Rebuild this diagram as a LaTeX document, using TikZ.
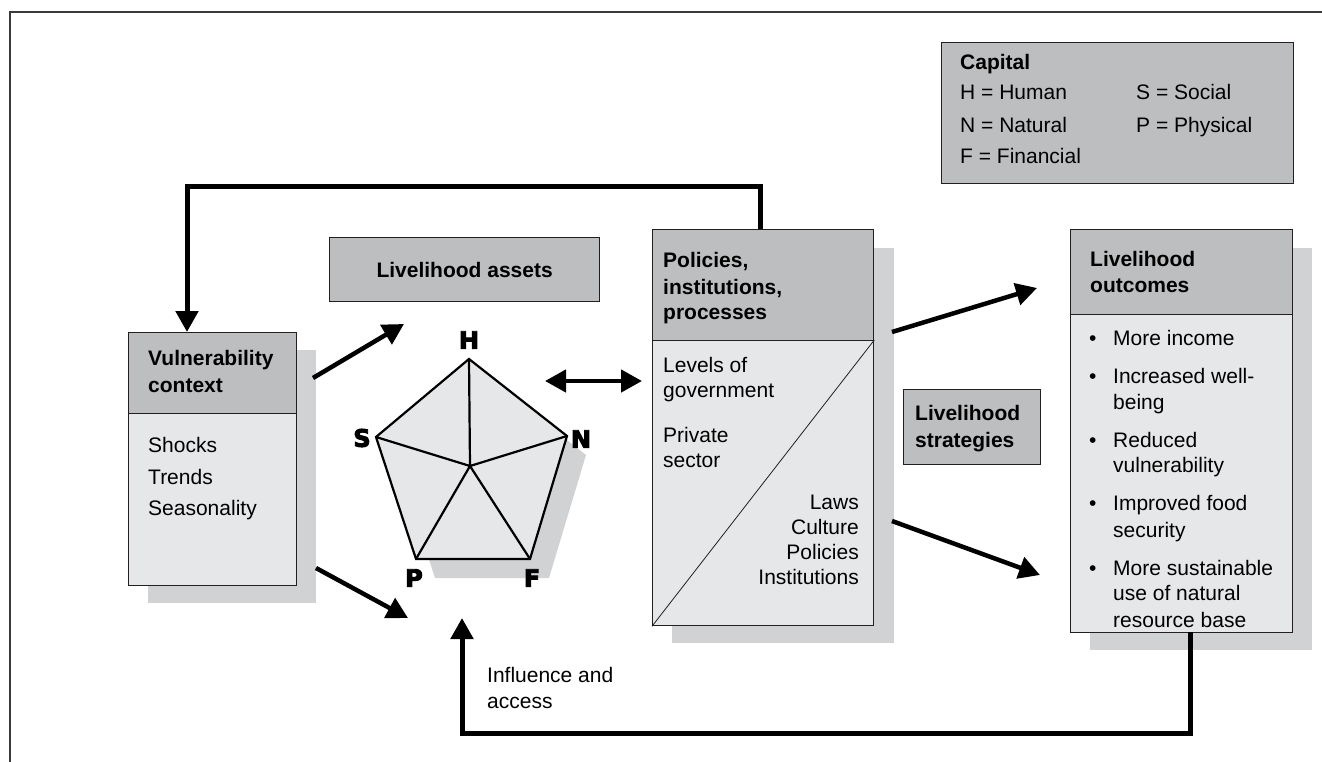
\documentclass[tikz,border=0pt]{standalone}
\usepackage{fontspec}
\setmainfont{Liberation Sans}
\newfontfamily\heavyfont[FakeBold=4]{DejaVu Sans Bold}
\usetikzlibrary{arrows.meta,calc}
\definecolor{hdrc}{HTML}{BDBEC0}
\definecolor{bodyc}{HTML}{E6E7E8}
\definecolor{shadc}{HTML}{D1D2D4}
\definecolor{bordc}{HTML}{231F20}
\definecolor{framec}{HTML}{3A3A3A}
\newcommand\fs{\fontsize{21}{26}\selectfont}
\tikzset{
  hbox/.style={draw=bordc, fill=hdrc, line width=1.3pt, inner sep=0pt, anchor=north west},
  bbox/.style={draw=bordc, fill=bodyc, line width=1.3pt, inner sep=0pt, anchor=north west},
  shad/.style={fill=shadc},
  txt/.style={font=\fs, inner sep=0pt, anchor=base west},
  txtr/.style={font=\fs, inner sep=0pt, anchor=base east},
  btxt/.style={font=\fs\bfseries, inner sep=0pt, anchor=base west},
  vlab/.style={font=\heavyfont\fontsize{24}{24}\selectfont, inner sep=0pt},
  arr/.style={line width=4.5pt, -{Triangle[length=21pt,width=22pt]}},
  darr/.style={line width=4.5pt, {Triangle[length=21pt,width=22pt]}-{Triangle[length=21pt,width=22pt]}},
  loopline/.style={line width=5pt},
}
\begin{document}
\begin{tikzpicture}[x=1pt,y=-1pt]
\useasboundingbox (0,0) rectangle (1322,762);
% frame
\draw[framec, line width=1.6pt] (10,762) -- (10,12) -- (1322,12);

% shadows
\fill[shad] (148,350) rectangle (316,603);
\fill[shad] (672,248) rectangle (894,643);
\fill[shad] (1090,248) rectangle (1312,650);
\fill[shad] (395,455) -- (488,378) -- (586,455) -- (549,578) -- (435,578) -- cycle;

% Capital box
\node[hbox, minimum width=352pt, minimum height=141pt] (cap) at (941,42) {};
\node[btxt] (capt) at (960,70) {Capital};
\node[txt] (caph) at (960,100) {H = Human};
\node[txt] (capn) at (960,133) {N = Natural};
\node[txt] (capf) at (960,164) {F = Financial};
\node[txt] (caps) at (1136,100) {S = Social};
\node[txt] (capp) at (1136,133) {P = Physical};

% Livelihood assets
\node[hbox, minimum width=270pt, minimum height=64pt] (ass) at (329,237) {};
\node[font=\fs\bfseries, inner sep=0pt] (asst) at (ass.center) {Livelihood assets};

% Vulnerability context
\node[hbox, minimum width=168pt, minimum height=81pt] (vulh) at (128,332) {};
\node[bbox, minimum width=168pt, minimum height=172pt] (vulb) at (128,413) {};
\node[btxt] (vul1) at (148,365) {Vulnerability};
\node[btxt] (vul2) at (148,392) {context};
\node[txt] (vul3) at (148,452) {Shocks};
\node[txt] (vul4) at (148,484) {Trends};
\node[txt] (vul5) at (148,515) {Seasonality};

% Policies
\node[hbox, minimum width=221pt, minimum height=111pt] (polh) at (652,229) {};
\node[bbox, minimum width=221pt, minimum height=285pt] (polb) at (652,340) {};
\draw[bordc, line width=0.8pt] (polb.south west) -- (polb.north east);
\node[btxt] (pol1) at (663,267) {Policies,};
\node[btxt] (pol2) at (663,294) {institutions,};
\node[btxt] (pol3) at (663,319) {processes};
\node[txt] (pol4) at (663,372) {Levels of};
\node[txt] (pol5) at (663,397) {government};
\node[txt] (pol6) at (663,442) {Private};
\node[txt] (pol7) at (663,467) {sector};
\node[txtr] (pol8) at (859,509) {Laws};
\node[txtr] (pol9) at (859,534) {Culture};
\node[txtr] (pol10) at (859,559) {Policies};
\node[txtr] (pol11) at (859,584) {Institutions};

% Livelihood strategies
\node[hbox, minimum width=137pt, minimum height=75pt] (str) at (903,389) {};
\node[btxt] (str1) at (915,420) {Livelihood};
\node[btxt] (str2) at (915,447) {strategies};

% Livelihood outcomes
\node[hbox, minimum width=222pt, minimum height=85pt] (outh) at (1070,229) {};
\node[bbox, minimum width=222pt, minimum height=318pt] (outb) at (1070,314) {};
\node[btxt] (out1) at (1090,266) {Livelihood};
\node[btxt] (out2) at (1090,292) {outcomes};
\foreach \y/\t [count=\i] in {345/More income, 383/Increased well-, 409/being, 447/Reduced, 472/vulnerability, 510/Improved food, 537/security, 575/More sustainable, 600/use of natural, 627/resource base}{
  \node[txt] (o\i) at (1113,\y) {\t};
}
\foreach \y [count=\i] in {345,383,447,510,575}{
  \node[txt] (b\i) at (1089,\y) {•};
}

% Pentagon
\coordinate (H) at (469,359);
\coordinate (S) at (376,437);
\coordinate (N) at (567,436);
\coordinate (P) at (416,559);
\coordinate (F) at (530,559);
\coordinate (C) at (470,466);
\filldraw[fill=bodyc, draw=black, line width=2.2pt, line join=miter] (H) -- (N) -- (F) -- (P) -- (S) -- cycle;
\draw[line width=2.2pt] (C) -- (H) (C) -- (N) (C) -- (F) (C) -- (P) (C) -- (S);
\node[vlab] (lH) at (469,340) {H};
\node[vlab] (lS) at (362,438) {S};
\node[vlab] (lN) at (581,439) {N};
\node[vlab] (lP) at (414,578) {P};
\node[vlab] (lF) at (532,578) {F};

% Influence and access
\node[txt] (inf1) at (487,682) {Influence and};
\node[txt] (inf2) at (487,708) {access};

% connectors
\coordinate (vin) at (187,332);
\coordinate (ttop) at (187,187);
\coordinate (pout) at (760,229);
\draw[loopline, -{Triangle[length=21pt,width=22pt]}] (pout) |- (ttop) -- (vin);

\coordinate (va1) at (313,378);
\coordinate (va2) at (404,324);
\draw[arr] (va1) -- (va2);
\coordinate (vb1) at (316,568);
\coordinate (vb2) at (408,618);
\draw[arr] (vb1) -- (vb2);

\coordinate (d1) at (545,381);
\coordinate (d2) at (642,381);
\draw[darr] (d1) -- (d2);

\coordinate (pa1) at (892,332);
\coordinate (pa2) at (1037,288);
\draw[arr] (pa1) -- (pa2);
\coordinate (pb1) at (892,521);
\coordinate (pb2) at (1040,575);
\draw[arr] (pb1) -- (pb2);

\coordinate (ob) at (1190,632);
\coordinate (bl) at (462,733);
\coordinate (up) at (462,618);
\draw[loopline, -{Triangle[length=21pt,width=22pt]}] (ob) |- (bl) -- (up);
\end{tikzpicture}
\end{document}
